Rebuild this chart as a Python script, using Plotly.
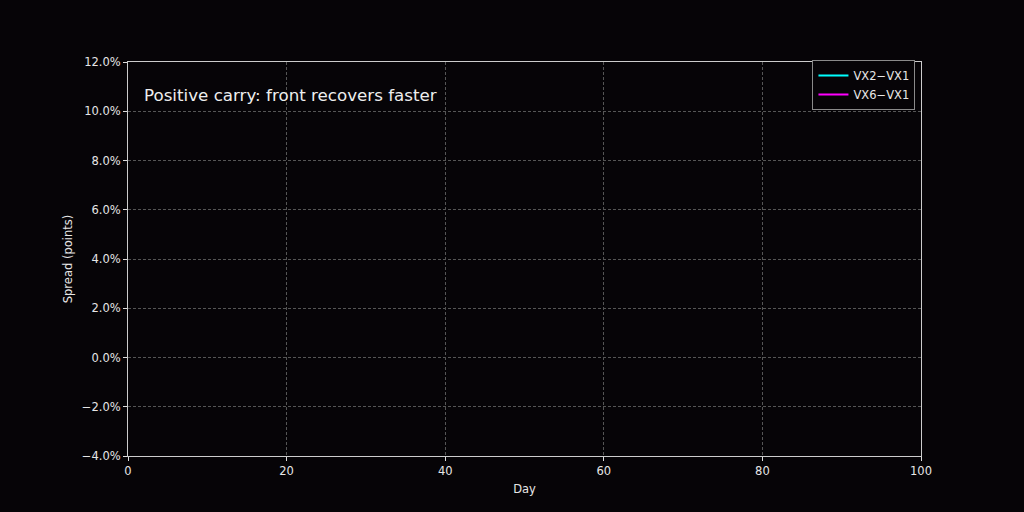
import plotly.graph_objects as go

# Data: the reference chart shows no visible line data in the plotted range,
# so both series are empty placeholders (legend entries only).
days_vx2 = [None]
spread_vx2 = [None]
days_vx6 = [None]
spread_vx6 = [None]

series_names = ["VX2\u2212VX1", "VX6\u2212VX1"]
series_colors = ["#00ffff", "#ff00ff"]

x_ticks = [0, 20, 40, 60, 80, 100]
y_ticks = [-0.04, -0.02, 0.0, 0.02, 0.04, 0.06, 0.08, 0.10, 0.12]
y_tick_labels = ["\u22124.0%", "\u22122.0%", "0.0%", "2.0%", "4.0%", "6.0%", "8.0%", "10.0%", "12.0%"]

BG = "#060407"
FONT = "DejaVu Sans"
TXT = "#e6e6e6"

fig = go.Figure()
fig.add_trace(go.Scatter(x=days_vx2, y=spread_vx2, mode="lines", name=series_names[0],
                         line=dict(color=series_colors[0], width=2), showlegend=True))
fig.add_trace(go.Scatter(x=days_vx6, y=spread_vx6, mode="lines", name=series_names[1],
                         line=dict(color=series_colors[1], width=2), showlegend=True))

fig.update_layout(
    width=1024, height=512,
    paper_bgcolor=BG, plot_bgcolor=BG,
    margin=dict(l=128, r=103, t=62, b=56),
    font=dict(family=FONT, color=TXT, size=11.5),
    showlegend=True,
    legend=dict(x=0.993, y=1.005, xanchor="right", yanchor="top",
                bgcolor=BG, bordercolor="#8a8a8a", borderwidth=1,
                font=dict(size=11.5, color=TXT, family=FONT),
                itemwidth=30, tracegroupgap=0),
    annotations=[dict(text="Positive carry: front recovers faster", xref="paper", yref="paper",
                      x=0.018, y=0.915, xanchor="left", yanchor="middle", showarrow=False,
                      font=dict(size=16.7, color="#eeeeee", family=FONT))],
)

axis_common = dict(ticks="outside", ticklen=4, tickcolor="#dddddd",
                   showline=True, linecolor="#cccccc", linewidth=1, mirror=True,
                   showgrid=True, gridcolor="#555555", griddash="3px,2px", gridwidth=0.8,
                   zeroline=False, tickfont=dict(size=11.5, family=FONT, color=TXT))

fig.update_xaxes(range=[0, 100], tickvals=x_ticks,
                 title=dict(text="Day", font=dict(size=11.5, family=FONT, color=TXT), standoff=8),
                 **axis_common)
fig.update_yaxes(range=[-0.04, 0.12], tickvals=y_ticks, ticktext=y_tick_labels,
                 title=dict(text="Spread (points)", font=dict(size=11.5, family=FONT, color=TXT), standoff=6),
                 **axis_common)

fig.write_html("out.html", config={"displayModeBar": False},
               post_script="document.body.style.margin='0';document.body.style.background='%s';" % BG)
